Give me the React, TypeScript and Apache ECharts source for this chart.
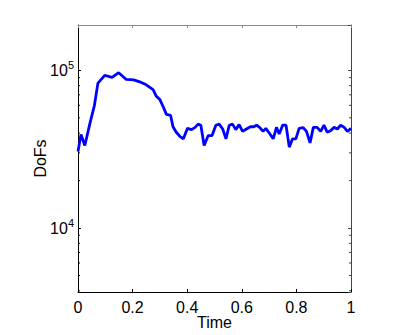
import React, { useEffect, useRef } from "react";
import * as echarts from "echarts";

const times = [0, 0.011, 0.025, 0.045, 0.06, 0.073, 0.098, 0.125, 0.149, 0.176, 0.204, 0.226, 0.25, 0.275, 0.287, 0.3, 0.312, 0.324, 0.339, 0.348, 0.36, 0.373, 0.386, 0.401, 0.416, 0.429, 0.44, 0.45, 0.462, 0.477, 0.491, 0.505, 0.517, 0.53, 0.542, 0.554, 0.566, 0.578, 0.59, 0.603, 0.617, 0.632, 0.644, 0.654, 0.666, 0.678, 0.688, 0.703, 0.715, 0.727, 0.737, 0.75, 0.762, 0.774, 0.786, 0.798, 0.81, 0.825, 0.837, 0.85, 0.862, 0.876, 0.889, 0.901, 0.913, 0.925, 0.938, 0.95, 0.962, 0.975, 0.987, 1.0];
const dofs = [30600, 39200, 33400, 47100, 59800, 83000, 93000, 90400, 96700, 87800, 87000, 84600, 81000, 75400, 68500, 65300, 58800, 52600, 51900, 43900, 40500, 38200, 36800, 42900, 42100, 43500, 45600, 44900, 33400, 38600, 38600, 44900, 45600, 42500, 36800, 44900, 45600, 42100, 45300, 41000, 42500, 43900, 43900, 44900, 43300, 41000, 42900, 39500, 36800, 43500, 39500, 45000, 44900, 32600, 36800, 36800, 42900, 43300, 41000, 34700, 43500, 43500, 41000, 44900, 40500, 41400, 43500, 42500, 44900, 43500, 41000, 42900];
const minorTicks = [4000, 5000, 6000, 7000, 8000, 9000, 20000, 30000, 40000, 50000, 60000, 70000, 80000, 90000];
const yMin = 3930;
const yMax = 194000;
const xTickInterval = 0.2;

const FONT = "'Liberation Sans', Arial, Helvetica, sans-serif";

export default function App() {
  const ref = useRef<HTMLDivElement>(null);
  useEffect(() => {
    document.body.style.margin = "0";
    const chart = echarts.init(ref.current!, null, { renderer: "svg" });
    const yLabel = (v: number) => {
      const e = Math.round(Math.log10(v));
      if (Math.abs(v - Math.pow(10, e)) / v < 1e-6 && (e === 4 || e === 5)) {
        return `{b|10}{s|${e}}`;
      }
      return "";
    };
    chart.setOption({
      animation: false,
      backgroundColor: "#fff",
      grid: { left: 78, right: 64, top: 25, bottom: 38, containLabel: false },
      xAxis: [
        {
          type: "value",
          min: 0,
          max: 1,
          interval: xTickInterval,
          position: "bottom",
          name: "Time",
          nameLocation: "middle",
          nameGap: 22,
          nameMoveOverlap: false,
          nameTextStyle: { fontFamily: FONT, fontSize: 16, color: "#000" },
          axisLine: { show: true, onZero: false, lineStyle: { color: "#000", width: 1 } },
          axisTick: { show: true, inside: true, length: 3, lineStyle: { color: "#000" } },
          axisLabel: { fontFamily: FONT, fontSize: 16, color: "#000", margin: 7 },
          splitLine: { show: false },
        },
        {
          type: "value",
          min: 0,
          max: 1,
          interval: xTickInterval,
          position: "top",
          axisLine: { show: true, onZero: false, lineStyle: { color: "#888", width: 1 } },
          axisTick: { show: true, inside: true, length: 3, lineStyle: { color: "#888" } },
          axisLabel: { show: false },
          splitLine: { show: false },
        },
      ],
      yAxis: [
        {
          type: "log",
          logBase: 10,
          min: yMin,
          max: yMax,
          position: "left",
          name: "DoFs",
          nameLocation: "middle",
          nameGap: 30,
          nameMoveOverlap: false,
          nameRotate: 90,
          nameTextStyle: { fontFamily: FONT, fontSize: 16, color: "#000" },
          axisLine: { show: true, onZero: false, lineStyle: { color: "#000", width: 1 } },
          axisTick: { show: true, inside: true, length: 3, lineStyle: { color: "#000" } },
          axisLabel: {
            margin: 4,
            showMinLabel: false,
            showMaxLabel: false,
            formatter: yLabel,
            rich: {
              b: { fontFamily: FONT, fontSize: 16, color: "#000", verticalAlign: "bottom", lineHeight: 16 },
              s: { fontFamily: FONT, fontSize: 11, color: "#000", verticalAlign: "bottom", lineHeight: 11, padding: [0, 0, 8, 0] },
            },
          },
          splitLine: { show: false },
        },
        {
          type: "log",
          logBase: 10,
          min: yMin,
          max: yMax,
          position: "right",
          axisLine: { show: true, onZero: false, lineStyle: { color: "#444", width: 1 } },
          axisTick: { show: true, inside: true, length: 3, lineStyle: { color: "#444" } },
          axisLabel: { show: false },
          splitLine: { show: false },
        },
      ],
      series: [
        {
          type: "custom",
          xAxisIndex: 0,
          yAxisIndex: 0,
          silent: true,
          data: minorTicks.map((v) => [0, v]),
          renderItem: (params: any, api: any) => {
            const v = api.value(1);
            const pL = api.coord([0, v]);
            const pR = api.coord([1, v]);
            return {
              type: "group",
              children: [
                { type: "line", shape: { x1: pL[0], y1: pL[1], x2: pL[0] + 2, y2: pL[1] }, style: { stroke: "#000", lineWidth: 1 } },
                { type: "line", shape: { x1: pR[0] - 2, y1: pR[1], x2: pR[0], y2: pR[1] }, style: { stroke: "#444", lineWidth: 1 } },
              ],
            };
          },
        },
        {
          type: "line",
          xAxisIndex: 0,
          yAxisIndex: 0,
          data: times.map((t, i) => [t, dofs[i]]),
          showSymbol: false,
          symbol: "none",
          lineStyle: { color: "#0000ff", width: 2.8 },
        },
      ],
    });
    return () => chart.dispose();
  }, []);
  return <div ref={ref} style={{ width: 415, height: 335 }} />;
}
